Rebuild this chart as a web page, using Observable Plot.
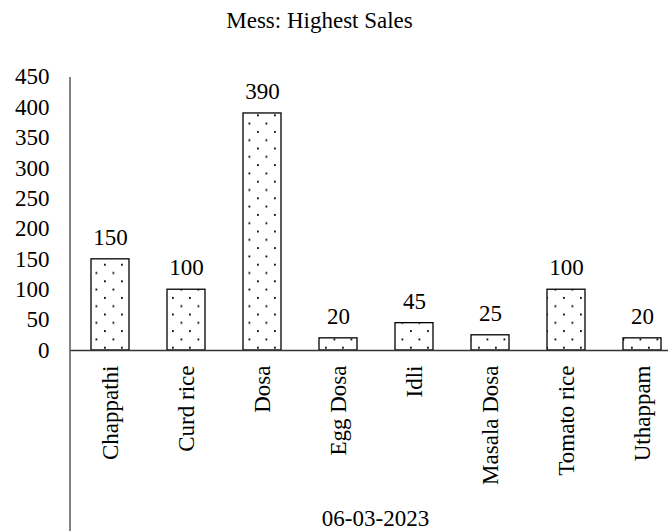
<!DOCTYPE html>
<html>
<head>
<meta charset="utf-8">
<script src="https://cdn.jsdelivr.net/npm/d3@7"></script>
<script src="https://cdn.jsdelivr.net/npm/@observablehq/plot@0.6"></script>
<style>
  html, body { margin: 0; padding: 0; background: #fff; }
  #title {
    width: 668px; height: 45px; box-sizing: border-box;
    padding-top: 9px; padding-right: 29px;
    text-align: center; font-family: "Liberation Serif", "Times New Roman", serif;
    font-size: 23px; line-height: 23px; color: #000;
  }
  svg { display: block; }
</style>
</head>
<body>
<div id="title">Mess: Highest Sales</div>
<div id="chart"></div>
<script>
const categories = ["Chappathi", "Curd rice", "Dosa", "Egg Dosa", "Idli", "Masala Dosa", "Tomato rice", "Uthappam"];
const sales = [150, 100, 390, 20, 45, 25, 100, 20];
const yTicks = [0, 50, 100, 150, 200, 250, 300, 350, 400, 450];
const xAxisLabel = "06-03-2023";

const data = categories.map((c, i) => ({item: c, sales: sales[i]}));
const font = "Liberation Serif, Times New Roman, serif";

const patternDefs = () => {
  const ns = "http://www.w3.org/2000/svg";
  const defs = document.createElementNS(ns, "defs");
  const pat = document.createElementNS(ns, "pattern");
  pat.setAttribute("id", "dots");
  pat.setAttribute("patternUnits", "userSpaceOnUse");
  pat.setAttribute("width", "17");
  pat.setAttribute("height", "16.6");
  const bg = document.createElementNS(ns, "rect");
  bg.setAttribute("width", "17"); bg.setAttribute("height", "16.6"); bg.setAttribute("fill", "#fff");
  pat.appendChild(bg);
  [[2, 3], [10.5, 11.3]].forEach(([x, y]) => {
    const r = document.createElementNS(ns, "rect");
    r.setAttribute("x", x); r.setAttribute("y", y);
    r.setAttribute("width", "1.8"); r.setAttribute("height", "1.8");
    r.setAttribute("fill", "#000");
    pat.appendChild(r);
  });
  defs.appendChild(pat);
  return defs;
};

const leftAxisLine = (index, scales, values, dims) => {
  const ns = "http://www.w3.org/2000/svg";
  const l = document.createElementNS(ns, "line");
  l.setAttribute("x1", dims.marginLeft); l.setAttribute("x2", dims.marginLeft);
  l.setAttribute("y1", dims.marginTop); l.setAttribute("y2", dims.height - dims.marginBottom);
  l.setAttribute("stroke", "#595959"); l.setAttribute("stroke-width", "1.5");
  return l;
};

const chart = Plot.plot({
  width: 668,
  height: 486,
  marginLeft: 70,
  marginRight: 0,
  marginTop: 32,
  marginBottom: 0,
  style: {fontFamily: font, fontSize: "23px", color: "#000", background: "#fff"},
  x: {domain: categories, range: [70, 681], paddingInner: 0.5, paddingOuter: 0.25, axis: null},
  y: {domain: [0, 450], range: [305, 31.5], axis: null},
  marks: [
    patternDefs,
    Plot.axisY({ticks: yTicks, tickSize: 0, tickPadding: 21, label: null, fontSize: 23, tickFormat: d => String(d)}),
    Plot.barY(data, {x: "item", y: "sales", fill: "url(#dots)", stroke: "#000", strokeWidth: 1.3}),
    Plot.ruleY([0], {stroke: "#333", strokeWidth: 1.3}),
    leftAxisLine,
    Plot.text(data, {x: "item", y: "sales", text: d => String(d.sales), dy: -22, lineAnchor: "middle", fontSize: 23, fill: "#000"}),
    Plot.text(data, {x: "item", y: () => 0, text: "item", rotate: -90, textAnchor: "end", lineAnchor: "middle", dy: 15, fontSize: 23, fill: "#000"}),
    Plot.text([xAxisLabel], {text: d => d, frameAnchor: "bottom", lineAnchor: "bottom", dx: 6, dy: -6, fontSize: 23, fill: "#000"})
  ]
});
document.getElementById("chart").appendChild(chart);
</script>
</body>
</html>
